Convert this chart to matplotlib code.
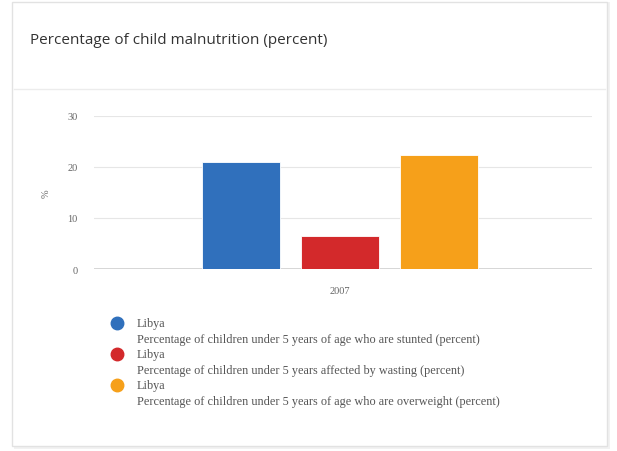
import matplotlib
matplotlib.use("Agg")
import matplotlib.pyplot as plt
from matplotlib.patches import Rectangle
from matplotlib.lines import Line2D

# ===== Data =====
years = ["2007"]
countries = ["Libya", "Libya", "Libya"]
indicators = [
    "Percentage of children under 5 years of age who are stunted (percent)",
    "Percentage of children under 5 years affected by wasting (percent)",
    "Percentage of children under 5 years of age who are overweight (percent)",
]
values = [21.0, 6.5, 22.4]
colors = ["#3070bc", "#d3292b", "#f6a01a"]
y_ticks = [0, 10, 20, 30]

W, H = 617, 452
fig = plt.figure(figsize=(W / 100, H / 100), dpi=100)
fig.patch.set_facecolor("white")

# ===== Card frame =====
fig.patches.append(Rectangle((14 / W, 1 - 450 / H), 596 / W, 447 / H,
                             transform=fig.transFigure, facecolor="#f2f2f2",
                             edgecolor="none", zorder=0))
fig.patches.append(Rectangle((12 / W, 1 - 447 / H), 595 / W, 444 / H,
                             transform=fig.transFigure, facecolor="white",
                             edgecolor="#e2e2e2", linewidth=1.0, zorder=1))
fig.lines.append(Line2D([14 / W, 605 / W], [1 - 90 / H, 1 - 90 / H],
                        transform=fig.transFigure, color="#ececec",
                        linewidth=1.0, zorder=2))

fig.text(30 / W, 1 - 41 / H, "Percentage of child malnutrition (percent)",
         fontsize=11, family="Open Sans", color="#333333",
         ha="left", va="center")

# ===== Bars =====
ax = fig.add_axes([94 / W, 1 - 270 / H, 498 / W, 153.3 / H])
ax.set_zorder(5)
ax.set_facecolor("none")
n = len(values)
pitch = 0.199
width = 0.157
for i, (v, c) in enumerate(zip(values, colors)):
    ax.bar((i - (n - 1) / 2) * pitch, v, width=width, color=c,
           edgecolor="white", linewidth=0.6, zorder=3)

ax.set_xlim(-0.494, 0.506)
ax.set_ylim(0, 30)
ax.set_yticks(y_ticks)
ax.set_yticklabels([str(t) for t in y_ticks])
ax.set_xticks([0])
ax.set_xticklabels(years)
for s in ax.spines.values():
    s.set_visible(False)
ax.grid(axis="y", color="#e6e6e6", linewidth=0.8, zorder=0)
ax.axhline(0, color="#d0d0d0", linewidth=1.2, zorder=2)
ax.tick_params(axis="both", length=0, labelsize=7.5, labelcolor="#666666")
ax.tick_params(axis="y", pad=12)
ax.tick_params(axis="x", pad=12)
for lab in ax.get_xticklabels() + ax.get_yticklabels():
    lab.set_family("Liberation Serif")
ax.set_ylabel("%", fontsize=7.5, color="#666666", family="Liberation Serif",
              labelpad=12)

# ===== Legend =====
for i, (country, ind, c) in enumerate(zip(countries, indicators, colors)):
    y0 = 324 + 31 * i
    fig.lines.append(Line2D([117 / W], [1 - y0 / H], marker="o",
                            markersize=9, color=c, linestyle="none",
                            transform=fig.transFigure, zorder=3))
    fig.text(137 / W, 1 - y0 / H, country, fontsize=8.85, color="#555555",
             family="Liberation Serif", ha="left", va="center")
    fig.text(137 / W, 1 - (y0 + 16) / H, ind, fontsize=8.85, color="#555555",
             family="Liberation Serif", ha="left", va="center")

fig.savefig("out.png", dpi=100)
